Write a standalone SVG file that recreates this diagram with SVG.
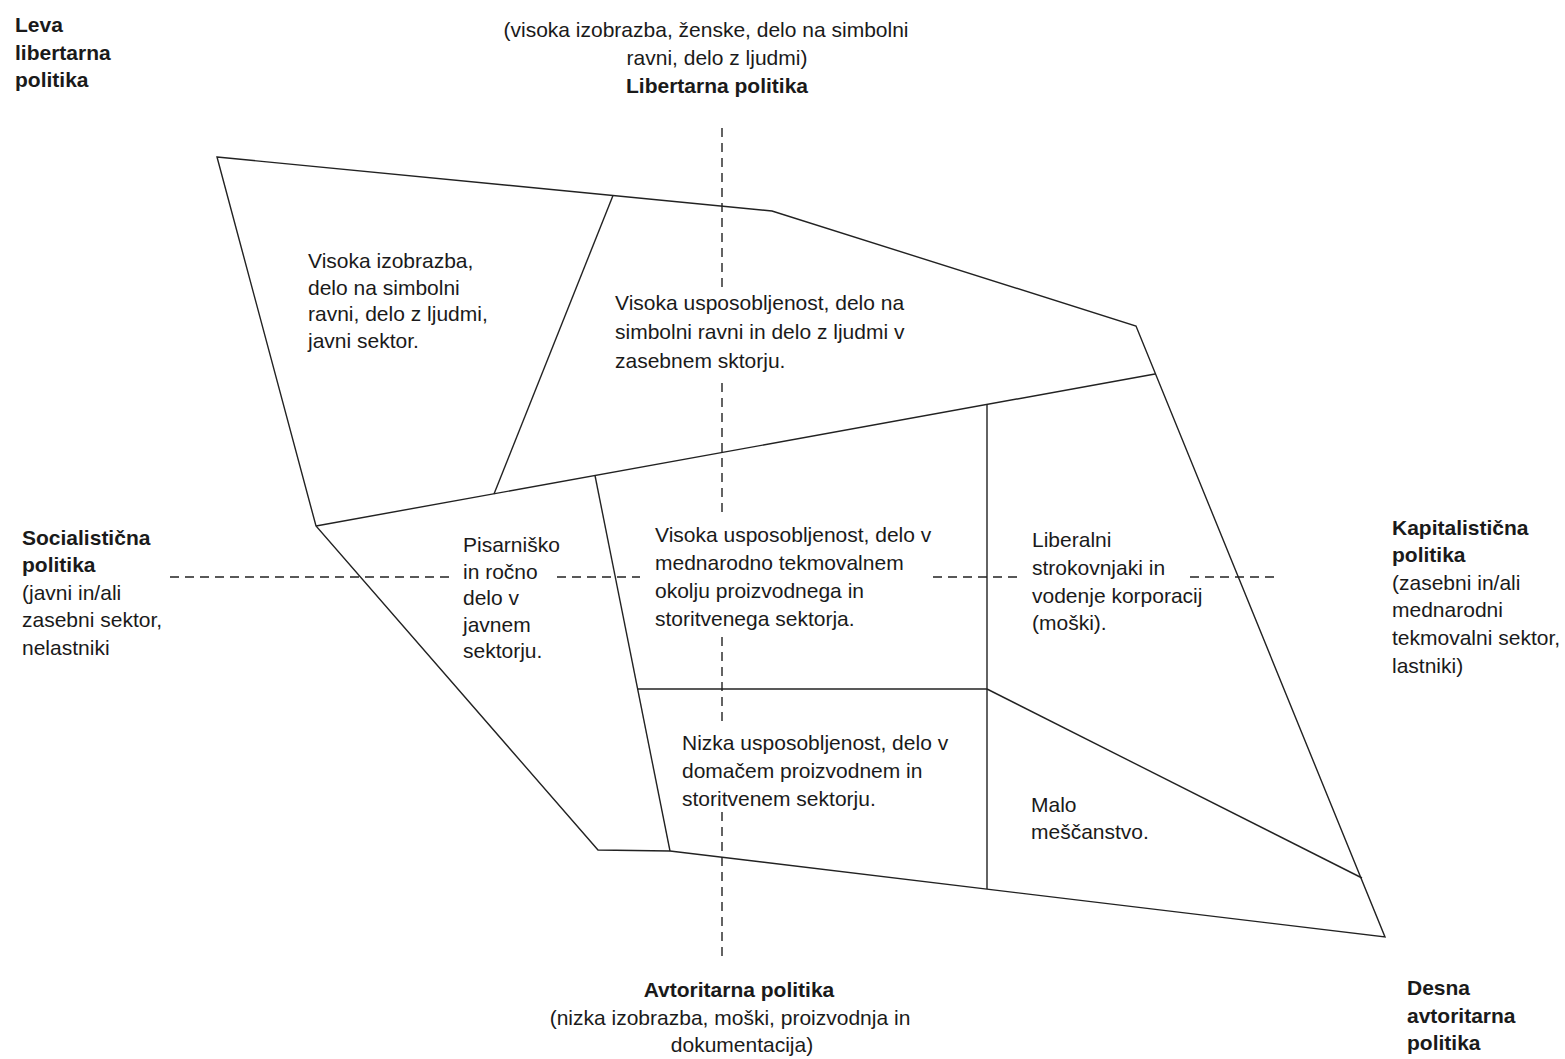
<svg xmlns="http://www.w3.org/2000/svg" width="1565" height="1059" viewBox="0 0 1565 1059">
<style>
  text { font-family: "Liberation Sans", Arial, sans-serif; font-size: 21px; fill: #1a1a1a; }
  .b { font-weight: bold; }
  .m { text-anchor: middle; }
  .edge { fill: none; stroke: #222; stroke-width: 1.4; stroke-linejoin: miter; }
  .axis { fill: none; stroke: #222; stroke-width: 1.4; stroke-dasharray: 9 6; }
</style>
<rect width="1565" height="1059" fill="#fff"/>

<g id="connectors">
  <g id="axes">
    <path class="axis" d="M722 128V287M722 383V515M722 637V722M722 812V960"/>
    <path class="axis" d="M170 577H452M557 577H640M933 577H1022M1190 577H1280"/>
  </g>
  <g id="outline">
    <polygon class="edge" points="217,157 772,211 1136,326 1385,937 670,851 598,850 316,526"/>
  </g>
  <g id="dividers">
    <line class="edge" x1="613" y1="195.5" x2="494" y2="494"/>
    <line class="edge" x1="316" y1="526" x2="1155" y2="374"/>
    <line class="edge" x1="987" y1="404.5" x2="987" y2="889"/>
    <line class="edge" x1="595" y1="475.5" x2="670" y2="851"/>
    <line class="edge" x1="637" y1="689" x2="987" y2="689"/>
    <line class="edge" x1="987" y1="689" x2="1362" y2="878"/>
  </g>
</g>

<g id="label-leva-libertarna">
  <text class="b" x="15" y="32">Leva</text>
  <text class="b" x="15" y="60">libertarna</text>
  <text class="b" x="15" y="87">politika</text>
</g>
<g id="label-libertarna">
  <text class="m" x="706" y="37">(visoka izobrazba, ženske, delo na simbolni</text>
  <text class="m" x="717" y="65">ravni, delo z ljudmi)</text>
  <text class="m b" x="717" y="93">Libertarna politika</text>
</g>
<g id="label-socialisticna">
  <text class="b" x="22" y="545">Socialistična</text>
  <text class="b" x="22" y="572">politika</text>
  <text x="22" y="600">(javni in/ali</text>
  <text x="22" y="627">zasebni sektor,</text>
  <text x="22" y="655">nelastniki</text>
</g>
<g id="label-kapitalisticna">
  <text class="b" x="1392" y="535">Kapitalistična</text>
  <text class="b" x="1392" y="562">politika</text>
  <text x="1392" y="590">(zasebni in/ali</text>
  <text x="1392" y="617">mednarodni</text>
  <text x="1392" y="645">tekmovalni sektor,</text>
  <text x="1392" y="673">lastniki)</text>
</g>
<g id="label-avtoritarna">
  <text class="m b" x="739" y="997">Avtoritarna politika</text>
  <text class="m" x="730" y="1025">(nizka izobrazba, moški, proizvodnja in</text>
  <text class="m" x="742" y="1052">dokumentacija)</text>
</g>
<g id="label-desna-avtoritarna">
  <text class="b" x="1407" y="995">Desna</text>
  <text class="b" x="1407" y="1023">avtoritarna</text>
  <text class="b" x="1407" y="1050">politika</text>
</g>

<g id="region-javni-visoka">
  <text x="308" y="268">Visoka izobrazba,</text>
  <text x="308" y="295">delo na simbolni</text>
  <text x="308" y="321">ravni, delo z ljudmi,</text>
  <text x="308" y="348">javni sektor.</text>
</g>
<g id="region-zasebni-visoka">
  <text x="615" y="310">Visoka usposobljenost, delo na</text>
  <text x="615" y="339">simbolni ravni in delo z ljudmi v</text>
  <text x="615" y="368">zasebnem sktorju.</text>
</g>
<g id="region-pisarnisko">
  <text x="463" y="552">Pisarniško</text>
  <text x="463" y="579">in ročno</text>
  <text x="463" y="605">delo v</text>
  <text x="463" y="632">javnem</text>
  <text x="463" y="658">sektorju.</text>
</g>
<g id="region-mednarodno">
  <text x="655" y="542">Visoka usposobljenost, delo v</text>
  <text x="655" y="570">mednarodno tekmovalnem</text>
  <text x="655" y="598">okolju proizvodnega in</text>
  <text x="655" y="626">storitvenega sektorja.</text>
</g>
<g id="region-liberalni">
  <text x="1032" y="547">Liberalni</text>
  <text x="1032" y="575">strokovnjaki in</text>
  <text x="1032" y="603">vodenje korporacij</text>
  <text x="1032" y="630">(moški).</text>
</g>
<g id="region-nizka">
  <text x="682" y="750">Nizka usposobljenost, delo v</text>
  <text x="682" y="778">domačem proizvodnem in</text>
  <text x="682" y="806">storitvenem sektorju.</text>
</g>
<g id="region-malo">
  <text x="1031" y="812">Malo</text>
  <text x="1031" y="839">meščanstvo.</text>
</g>
</svg>
